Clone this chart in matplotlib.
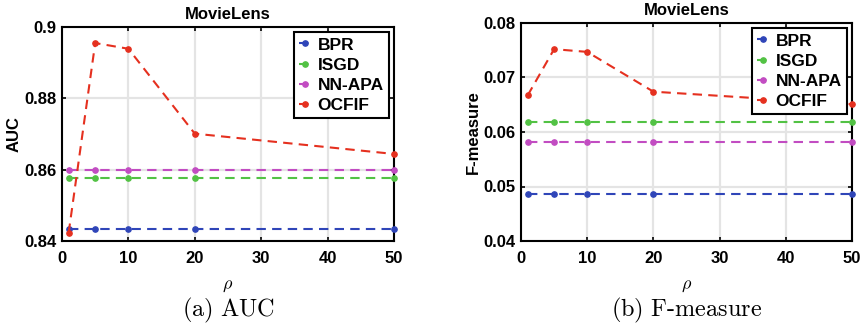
import numpy as np
import matplotlib.pyplot as plt

# ── Data ──────────────────────────────────────────────────────────────────────
RHO = [1, 5, 10, 20, 50]
METHODS = ["BPR", "ISGD", "NN-APA", "OCFIF"]
COLORS = {"BPR": "#2F45B8", "ISGD": "#52C244", "NN-APA": "#C24CC2", "OCFIF": "#E5301F"}

AUC = {
    "BPR":    [0.8433, 0.8433, 0.8433, 0.8433, 0.8433],
    "ISGD":   [0.8578, 0.8578, 0.8578, 0.8578, 0.8578],
    "NN-APA": [0.8600, 0.8600, 0.8600, 0.8600, 0.8600],
    "OCFIF":  [0.8423, 0.8955, 0.8939, 0.8701, 0.8644],
}
FMEAS = {
    "BPR":    [0.0487, 0.0487, 0.0487, 0.0487, 0.0487],
    "ISGD":   [0.0619, 0.0619, 0.0619, 0.0619, 0.0619],
    "NN-APA": [0.0582, 0.0582, 0.0582, 0.0582, 0.0582],
    "OCFIF":  [0.0667, 0.0752, 0.0747, 0.0674, 0.0651],
}

plt.rcParams["font.family"] = ["Liberation Sans", "DejaVu Sans"]
plt.rcParams["font.weight"] = "bold"
plt.rcParams["mathtext.fontset"] = "cm"

fig = plt.figure(figsize=(8.63, 3.27), dpi=100)
W, H = 863, 327
panels = [
    # (data, ylabel, ylim, yticks, ylabels, box px (l, t, r, b), caption)
    (AUC, "AUC", (0.84, 0.9), [0.84, 0.86, 0.88, 0.9],
     ["0.84", "0.86", "0.88", "0.9"], (62, 27, 394, 241), r"$\mathrm{(a)\ AUC}$"),
    (FMEAS, "F-measure", (0.04, 0.08), [0.04, 0.05, 0.06, 0.07, 0.08],
     ["0.04", "0.05", "0.06", "0.07", "0.08"], (521, 23, 852, 241),
     r"$\mathrm{(b)\ F\text{-}measure}$"),
]

for data, ylabel, ylim, yticks, ylabs, (l, t, r, b), caption in panels:
    ax = fig.add_axes([l / W, 1 - b / H, (r - l) / W, (b - t) / H])
    for m in METHODS:
        ax.plot(RHO, data[m], linestyle=(0, (4.5, 3)), linewidth=1.5,
                color=COLORS[m], marker="o", markersize=3.8, label=m,
                clip_on=False, zorder=3)
    ax.set_xlim(0, 50)
    ax.set_ylim(*ylim)
    ax.set_xticks([0, 10, 20, 30, 40, 50])
    ax.set_yticks(yticks)
    ax.set_yticklabels(ylabs)
    ax.grid(True, color="#e4e4e4", linewidth=1.6, zorder=0)
    ax.set_axisbelow(True)
    for s in ax.spines.values():
        s.set_linewidth(1.5)
    ax.tick_params(axis="x", labelsize=12, width=1.2, length=3, direction="in",
                   top=True, pad=7)
    ax.tick_params(axis="y", labelsize=12, width=1.2, length=3, direction="in",
                   right=True, pad=4)
    for lab in ax.get_xticklabels() + ax.get_yticklabels():
        lab.set_fontweight("bold")
    ax.set_ylabel(ylabel, fontsize=12, fontweight="bold", labelpad=2)
    ax.set_xlabel(r"$\rho$", fontsize=13, labelpad=8)
    ax.set_title("MovieLens", fontsize=12, fontweight="bold", pad=5.5)
    leg = ax.legend(loc="upper right", handlelength=0.7,
                    handletextpad=0.35, borderpad=0.3, labelspacing=0.28,
                    fancybox=False, framealpha=1, edgecolor="black",
                    borderaxespad=0.3, prop={"weight": "bold", "size": 12.5})
    leg.get_frame().set_linewidth(1.5)
    fig.text((l + r) / 2 / W, 1 - 310 / H, caption, fontsize=17.5,
             ha="center", va="center")

fig.savefig("out.png", dpi=100)
